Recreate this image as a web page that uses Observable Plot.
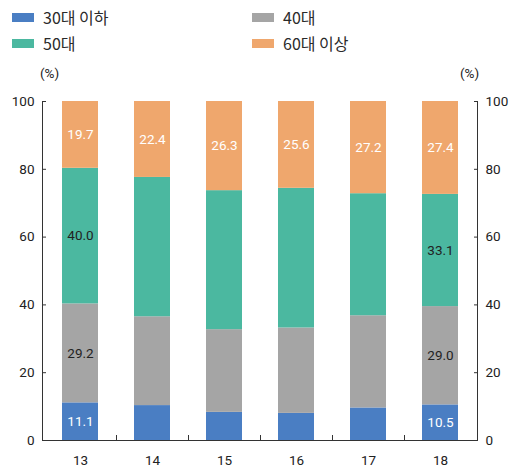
<!DOCTYPE html>
<html>
<head>
<meta charset="utf-8">
<script src="https://cdn.jsdelivr.net/npm/d3@7"></script>
<script src="https://cdn.jsdelivr.net/npm/@observablehq/plot@0.6"></script>
<style>
  body { margin: 0; background: #fff; }
  #chart { position: relative; width: 512px; }
  .legend { position: relative; height: 58px; font-family: "Noto Sans CJK KR", sans-serif; font-size: 16px; color: #2a2a2a; }
  .item { position: absolute; display: flex; align-items: center; height: 20px; white-space: nowrap; }
  .sw { width: 22px; height: 9px; margin-right: 9px; }
  svg { display: block; }
</style>
</head>
<body>
<div id="chart"></div>
<script>
// Survey years (x categories) and age groups (stack order, bottom to top)
const years = ["13", "14", "15", "16", "17", "18"];
const groups = ["30대 이하", "40대", "50대", "60대 이상"];
const colors = ["#4a7ec3", "#a5a5a5", "#4bb8a0", "#efa76d"];

// Share of each age group (%)
const under30 = [11.1, 10.3, 8.3, 8.0, 9.6, 10.5];
const age40 = [29.2, 26.2, 24.4, 25.2, 27.2, 29.0];
const age50 = [40.0, 41.1, 41.0, 41.2, 36.0, 33.1];
const over60 = [19.7, 22.4, 26.3, 25.6, 27.2, 27.4];

const yTicks = [0, 20, 40, 60, 80, 100];
// Inner segments carry value labels only in these years
const labelledYears = ["13", "18"];

const series = [under30, age40, age50, over60];
const rows = [];
years.forEach((yr, i) => {
  groups.forEach((g, j) => rows.push({year: yr, group: g, value: series[j][i]}));
});

const lightLabel = new Set([groups[0], groups[3]]);
const showLabel = d => d.group === groups[3] || labelledYears.includes(d.year);
const labelText = (light) => d =>
  showLabel(d) && lightLabel.has(d.group) === light ? d.value.toFixed(1) : null;

// Legend: two columns, two rows
const chart = document.getElementById("chart");
const legend = document.createElement("div");
legend.className = "legend";
const spots = [[12, 7], [252, 7], [12, 33], [252, 33]];
groups.forEach((g, i) => {
  const item = document.createElement("div");
  item.className = "item";
  item.style.left = spots[i][0] + "px";
  item.style.top = spots[i][1] + "px";
  item.innerHTML = `<span class="sw" style="background:${colors[i]}"></span><span>${g}</span>`;
  legend.appendChild(item);
});
chart.appendChild(legend);

// Short upward ticks on the baseline between the categories
function bandTicks(index, scales) {
  const x = scales.x, y = scales.y;
  const bw = typeof x.bandwidth === "function" ? x.bandwidth() : x.bandwidth;
  const step = x(years[1]) - x(years[0]);
  const g = d3.create("svg:g").attr("stroke", "#333").attr("stroke-width", 1);
  years.slice(1).forEach(yr => {
    const px = Math.round(x(yr) - (step - bw) / 2) + 0.5;
    g.append("line").attr("x1", px).attr("x2", px).attr("y1", y(0)).attr("y2", y(0) - 5);
  });
  return g.node();
}

const axisColor = "#333";

const plot = Plot.plot({
  width: 512,
  height: 410,
  marginTop: 43,
  marginBottom: 28,
  marginLeft: 42,
  marginRight: 35,
  style: {fontFamily: "Roboto, sans-serif", fontSize: "13.5px", color: "#222", background: "#fff"},
  x: {domain: years, paddingInner: 0.5, paddingOuter: 0.25, label: null},
  y: {domain: [0, 100], label: null},
  color: {domain: groups, range: colors},
  marks: [
    Plot.barY(rows, {x: "year", y: "value", fill: "group", order: groups}),
    Plot.text(rows, Plot.stackY({x: "year", y: "value", z: "group", order: groups, text: labelText(true), fill: "#fff"})),
    Plot.text(rows, Plot.stackY({x: "year", y: "value", z: "group", order: groups, text: labelText(false), fill: "#222"})),
    Plot.frame({anchor: "left", stroke: axisColor}),
    Plot.frame({anchor: "right", stroke: axisColor}),
    Plot.ruleY([0], {stroke: axisColor}),
    Plot.axisY({anchor: "left", ticks: yTicks, tickSize: -4, tickPadding: 12, stroke: axisColor, tickFormat: d => d}),
    Plot.axisY({anchor: "right", ticks: yTicks, tickSize: -4, tickPadding: 12, stroke: axisColor, tickFormat: d => d}),
    Plot.axisX({tickSize: 0, tickPadding: 15}),
    bandTicks,
    Plot.text(["(%)"], {text: d => d, frameAnchor: "top-left", textAnchor: "middle", lineAnchor: "middle", dx: 7, dy: -28, fill: "#222"}),
    Plot.text(["(%)"], {text: d => d, frameAnchor: "top-right", textAnchor: "middle", lineAnchor: "middle", dx: -8, dy: -28, fill: "#222"})
  ]
});
chart.appendChild(plot);
</script>
</body>
</html>
